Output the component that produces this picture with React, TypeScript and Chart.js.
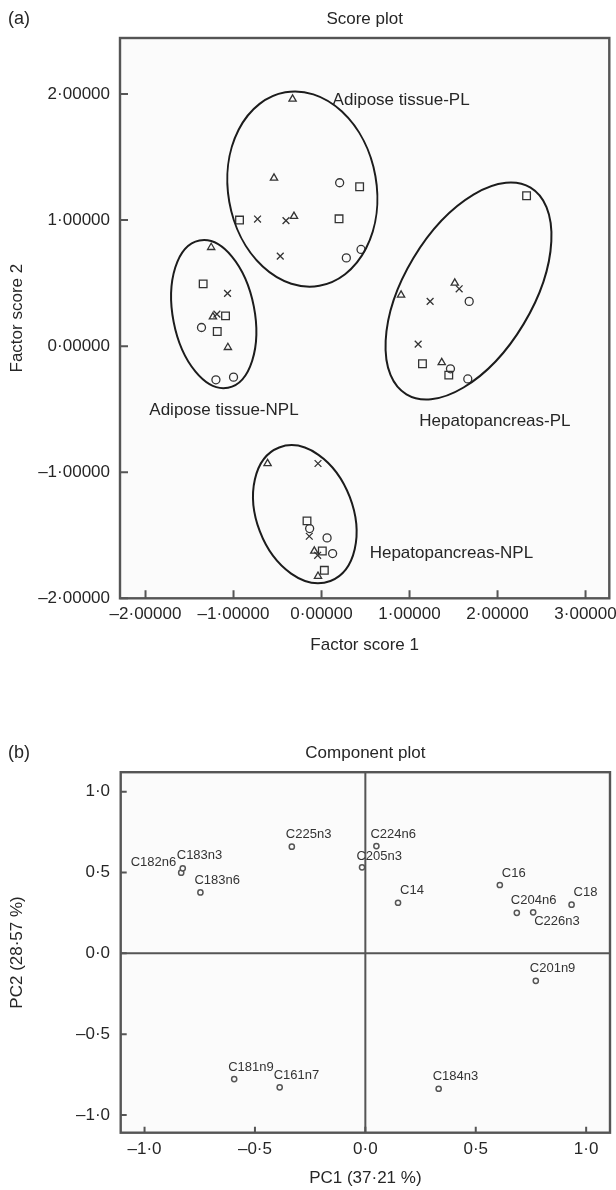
import React, { useEffect, useRef } from "react";
import { Chart, registerables } from "chart.js";

Chart.register(...registerables);

const FONT = '"Liberation Sans", Arial, Helvetica, sans-serif';
const INK = "#262626";
const FRAME = "#555555";
const PLOT_BG = "#fbfbfb";

// ---------- Panel (a): score plot ----------
const scoreXTicks = [-2, -1, 0, 1, 2, 3];
const scoreYTicks = [-2, -1, 0, 1, 2];
const scoreXMin = -2.29;
const scoreXMax = 3.27;
const scoreYMin = -2.0;
const scoreYMax = 2.444;

const trianglePoints = [
  [-0.329, 1.96], [-0.54, 1.333], [-0.313, 1.03],
  [-1.254, 0.783], [-1.234, 0.233], [-1.064, -0.01],
  [0.904, 0.405], [1.514, 0.5], [1.366, -0.13],
  [-0.613, -0.931], [-0.082, -1.625], [-0.04, -1.825],
];
const squarePoints = [
  [0.433, 1.264], [-0.932, 1.0], [0.199, 1.01],
  [-1.345, 0.494], [-1.091, 0.24], [-1.185, 0.116],
  [2.33, 1.193], [1.147, -0.14], [1.446, -0.23],
  [-0.165, -1.386], [0.009, -1.625], [0.032, -1.778],
];
const circlePoints = [
  [0.206, 1.296], [0.282, 0.7], [0.449, 0.767],
  [-1.364, 0.148], [-1.2, -0.267], [-1.0, -0.246],
  [1.678, 0.355], [1.465, -0.18], [1.662, -0.26],
  [-0.135, -1.447], [0.063, -1.521], [0.126, -1.645],
];
const crossPoints = [
  [-0.727, 1.008], [-0.404, 0.995], [-0.469, 0.714],
  [-1.068, 0.418], [-1.189, 0.254],
  [1.564, 0.455], [1.234, 0.355], [1.098, 0.016],
  [-0.04, -0.931], [-0.139, -1.508], [-0.044, -1.659],
];

const clusterNames = ["Adipose tissue-PL", "Adipose tissue-NPL", "Hepatopancreas-PL", "Hepatopancreas-NPL"];
const clusterCentres = [[-0.218, 1.246], [-1.225, 0.254], [1.67, 0.437], [-0.19, -1.333]];
const clusterRadii = [[0.843, 0.779], [0.464, 0.595], [0.73, 0.956], [0.547, 0.567]];
const clusterTiltDeg = [-10, -11, 31, -21];
const clusterLabelAnchors = [[0.126, 1.952], [-1.957, -0.508], [1.111, -0.595], [0.547, -1.645]];

// ---------- Panel (b): component plot ----------
const componentTicks = [-1, -0.5, 0, 0.5, 1];
const compXMin = -1.108;
const compXMax = 1.108;
const compYMin = -1.11;
const compYMax = 1.121;

const componentNames = [
  "C14", "C16", "C18", "C161n7", "C181n9", "C182n6", "C183n3", "C183n6",
  "C184n3", "C201n9", "C204n6", "C205n3", "C224n6", "C225n3", "C226n3",
];
const pc1Loadings = [0.148, 0.609, 0.934, -0.388, -0.594, -0.834, -0.827, -0.747, 0.332, 0.772, 0.686, -0.015, 0.05, -0.333, 0.76];
const pc2Loadings = [0.313, 0.423, 0.301, -0.829, -0.778, 0.499, 0.526, 0.377, -0.838, -0.17, 0.251, 0.532, 0.664, 0.66, 0.254];

// label placement style (pixel offsets from the marker)
const labelOffsets: Record<string, [number, number, string]> = {
  C14: [2, -12, "left"],
  C16: [2, -12, "left"],
  C18: [2, -12, "left"],
  C182n6: [-5, -10, "right"],
  C183n3: [-6, -12.6, "left"],
  C205n3: [-5.6, -10.6, "left"],
  C226n3: [1, 9.5, "left"],
};
const defaultLabelOffset: [number, number, string] = [-6, -12, "left"];

function fmt(v: number, decimals: number) {
  const s = Math.abs(v).toFixed(decimals).replace(".", "\u00B7");
  return v < -1e-9 ? "\u2013" + s : s;
}

function drawText(ctx: any, text: string, x: number, y: number, size: number, align = "left", rotate = 0, color = INK) {
  ctx.save();
  ctx.font = `${size}px ${FONT}`;
  ctx.fillStyle = color;
  ctx.textAlign = align;
  ctx.textBaseline = "middle";
  ctx.translate(x, y);
  if (rotate) ctx.rotate(rotate);
  ctx.fillText(text, 0, 0);
  ctx.restore();
}

function axis(min: number, max: number, ticks: number[], decimals: number, padding: number, fit: number, horizontal: boolean) {
  return {
    type: "linear",
    min,
    max,
    grid: { display: false, drawTicks: false },
    border: { display: false },
    ticks: {
      autoSkip: false,
      maxRotation: 0,
      minRotation: 0,
      padding,
      color: INK,
      font: { family: FONT, size: 17 },
      callback: (v: any) => fmt(Number(v), decimals),
    },
    afterBuildTicks: (scale: any) => {
      scale.ticks = ticks.map((v) => ({ value: v }));
    },
    afterFit: (scale: any) => {
      if (horizontal) scale.height = fit;
      else scale.width = fit;
      scale.paddingLeft = 0;
      scale.paddingRight = 0;
      scale.paddingTop = 0;
      scale.paddingBottom = 0;
    },
  };
}

function toXY(pts: number[][]) {
  return pts.map(([x, y]) => ({ x, y }));
}

const markerBase = {
  showLine: false,
  pointBorderColor: "#333333",
  pointBackgroundColor: "rgba(0,0,0,0)",
  pointBorderWidth: 1.3,
  pointHoverRadius: 0,
};

function ScoreChart() {
  const ref = useRef<HTMLCanvasElement | null>(null);
  useEffect(() => {
    if (!ref.current) return;
    const decor = {
      id: "scoreDecor",
      beforeDraw(chart: any) {
        const { ctx, chartArea: a } = chart;
        ctx.save();
        ctx.fillStyle = "#ffffff";
        ctx.fillRect(0, 0, chart.width, chart.height);
        ctx.fillStyle = PLOT_BG;
        ctx.fillRect(a.left, a.top, a.right - a.left, a.bottom - a.top);
        ctx.restore();
      },
      afterDatasetsDraw(chart: any) {
        const { ctx } = chart;
        const xs = chart.scales.x;
        const ys = chart.scales.y;
        ctx.save();
        ctx.strokeStyle = "#1c1c1c";
        ctx.lineWidth = 2;
        clusterCentres.forEach(([cx, cy], i) => {
          const px = xs.getPixelForValue(cx);
          const py = ys.getPixelForValue(cy);
          const rx = Math.abs(xs.getPixelForValue(cx + clusterRadii[i][0]) - px);
          const ry = Math.abs(ys.getPixelForValue(cy + clusterRadii[i][1]) - py);
          ctx.beginPath();
          ctx.ellipse(px, py, rx, ry, (clusterTiltDeg[i] * Math.PI) / 180, 0, Math.PI * 2);
          ctx.stroke();
        });
        ctx.restore();
      },
      afterDraw(chart: any) {
        const { ctx, chartArea: a } = chart;
        const xs = chart.scales.x;
        const ys = chart.scales.y;
        ctx.save();
        ctx.strokeStyle = FRAME;
        ctx.lineWidth = 2.4;
        ctx.strokeRect(a.left, a.top, a.right - a.left, a.bottom - a.top);
        ctx.lineWidth = 2;
        ctx.beginPath();
        scoreXTicks.forEach((v) => {
          const px = xs.getPixelForValue(v);
          ctx.moveTo(px, a.bottom);
          ctx.lineTo(px, a.bottom - 8);
        });
        scoreYTicks.forEach((v) => {
          const py = ys.getPixelForValue(v);
          ctx.moveTo(a.left, py);
          ctx.lineTo(a.left + 8, py);
        });
        ctx.stroke();
        ctx.restore();

        const cxMid = (a.left + a.right) / 2;
        drawText(ctx, "(a)", 8, 19, 18, "left");
        drawText(ctx, "Score plot", cxMid, 19.5, 17, "center");
        drawText(ctx, "Factor score 1", cxMid, 645, 17, "center");
        drawText(ctx, "Factor score 2", 17, (a.top + a.bottom) / 2, 17, "center", -Math.PI / 2);
        clusterLabelAnchors.forEach(([lx, ly], i) => {
          drawText(ctx, clusterNames[i], xs.getPixelForValue(lx), ys.getPixelForValue(ly), 17, "left");
        });
      },
    };

    const chart = new Chart(ref.current, {
      type: "scatter",
      data: {
        datasets: [
          { ...markerBase, label: "triangle", data: toXY(trianglePoints), pointStyle: "triangle", pointRadius: 4.2 },
          { ...markerBase, label: "square", data: toXY(squarePoints), pointStyle: "rect", pointRadius: 5.4 },
          { ...markerBase, label: "circle", data: toXY(circlePoints), pointStyle: "circle", pointRadius: 4 },
          { ...markerBase, label: "cross", data: toXY(crossPoints), pointStyle: "crossRot", pointRadius: 4.8 },
        ],
      },
      options: {
        animation: false,
        responsive: false,
        devicePixelRatio: 1,
        events: [],
        layout: { padding: { left: 0, right: 6.7, top: 38, bottom: 0 } },
        plugins: { legend: { display: false }, tooltip: { enabled: false }, title: { display: false } },
        scales: {
          x: axis(scoreXMin, scoreXMax, scoreXTicks, 5, 6, 61.7, true),
          y: axis(scoreYMin, scoreYMax, scoreYTicks, 5, 10, 120, false),
        },
      } as any,
      plugins: [decor],
    } as any);
    return () => chart.destroy();
  }, []);
  return <canvas ref={ref} width={616} height={660} style={{ position: "absolute", left: 0, top: 0 }} />;
}

function ComponentChart() {
  const ref = useRef<HTMLCanvasElement | null>(null);
  useEffect(() => {
    if (!ref.current) return;
    const decor = {
      id: "componentDecor",
      beforeDraw(chart: any) {
        const { ctx, chartArea: a } = chart;
        ctx.save();
        ctx.fillStyle = "#ffffff";
        ctx.fillRect(0, 0, chart.width, chart.height);
        ctx.fillStyle = PLOT_BG;
        ctx.fillRect(a.left, a.top, a.right - a.left, a.bottom - a.top);
        ctx.restore();
      },
      beforeDatasetsDraw(chart: any) {
        const { ctx, chartArea: a } = chart;
        const xs = chart.scales.x;
        const ys = chart.scales.y;
        ctx.save();
        ctx.strokeStyle = FRAME;
        ctx.lineWidth = 2;
        ctx.beginPath();
        const zx = xs.getPixelForValue(0);
        const zy = ys.getPixelForValue(0);
        ctx.moveTo(zx, a.top);
        ctx.lineTo(zx, a.bottom);
        ctx.moveTo(a.left, zy);
        ctx.lineTo(a.right, zy);
        ctx.stroke();
        ctx.restore();
      },
      afterDraw(chart: any) {
        const { ctx, chartArea: a } = chart;
        const xs = chart.scales.x;
        const ys = chart.scales.y;
        ctx.save();
        ctx.strokeStyle = FRAME;
        ctx.lineWidth = 2.4;
        ctx.strokeRect(a.left, a.top, a.right - a.left, a.bottom - a.top);
        ctx.lineWidth = 2;
        ctx.beginPath();
        componentTicks.forEach((v) => {
          const px = xs.getPixelForValue(v);
          ctx.moveTo(px, a.bottom);
          ctx.lineTo(px, a.bottom - 6);
          const py = ys.getPixelForValue(v);
          ctx.moveTo(a.left, py);
          ctx.lineTo(a.left + 6, py);
        });
        ctx.stroke();
        ctx.restore();

        const meta = chart.getDatasetMeta(0);
        meta.data.forEach((pt: any, i: number) => {
          const name = componentNames[i];
          const [dx, dy, align] = labelOffsets[name] || defaultLabelOffset;
          drawText(ctx, name, pt.x + dx, pt.y + dy, 13, align, 0, "#333333");
        });

        const cxMid = (a.left + a.right) / 2;
        drawText(ctx, "(b)", 8, 93, 18, "left");
        drawText(ctx, "Component plot", cxMid, 93, 17, "center");
        drawText(ctx, "PC1 (37\u00B721 %)", cxMid, 518.3, 17, "center");
        drawText(ctx, "PC2 (28\u00B757 %)", 17, (a.top + a.bottom) / 2, 17, "center", -Math.PI / 2);
      },
    };

    const chart = new Chart(ref.current, {
      type: "scatter",
      data: {
        datasets: [
          {
            label: "loadings",
            data: pc1Loadings.map((x, i) => ({ x, y: pc2Loadings[i] })),
            showLine: false,
            pointStyle: "circle",
            pointRadius: 2.6,
            pointBorderWidth: 1.5,
            pointBorderColor: "#555555",
            pointBackgroundColor: PLOT_BG,
            pointHoverRadius: 0,
          },
        ],
      },
      options: {
        animation: false,
        responsive: false,
        devicePixelRatio: 1,
        events: [],
        layout: { padding: { left: 0, right: 6, top: 112.2, bottom: 0 } },
        plugins: { legend: { display: false }, tooltip: { enabled: false }, title: { display: false } },
        scales: {
          x: axis(compXMin, compXMax, componentTicks, 1, 6, 57.3, true),
          y: axis(compYMin, compYMax, componentTicks, 1, 10.7, 120.7, false),
        },
      } as any,
      plugins: [decor],
    } as any);
    return () => chart.destroy();
  }, []);
  return <canvas ref={ref} width={616} height={530} style={{ position: "absolute", left: 0, top: 660 }} />;
}

export default function App() {
  return (
    <div style={{ position: "absolute", left: 0, top: 0, width: 616, height: 1190, background: "#ffffff" }}>
      <ScoreChart />
      <ComponentChart />
    </div>
  );
}
